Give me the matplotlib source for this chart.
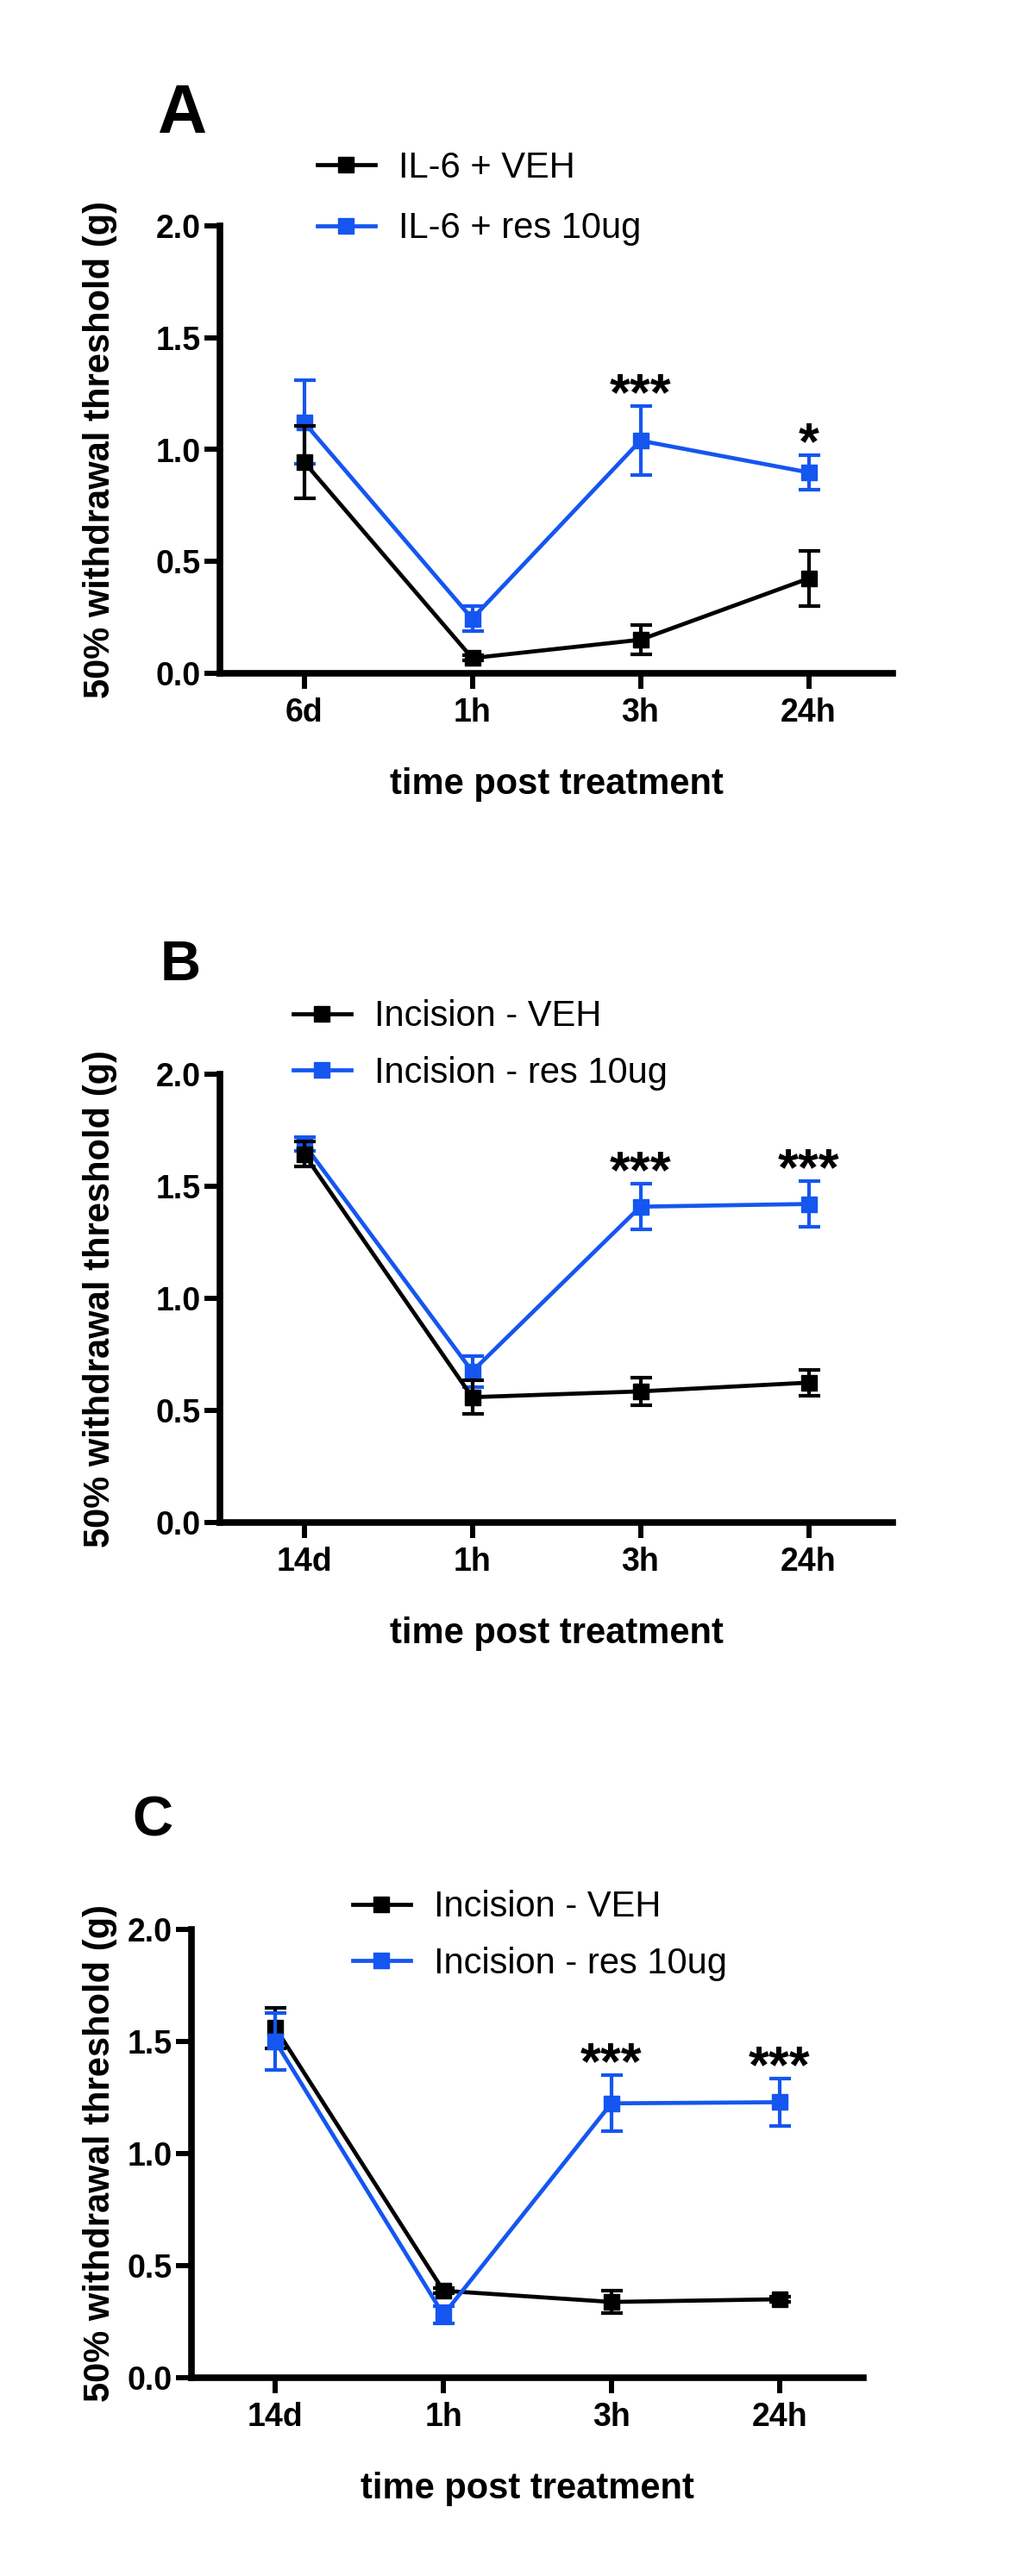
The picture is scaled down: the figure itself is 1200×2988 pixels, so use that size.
import matplotlib
matplotlib.use('Agg')
import matplotlib.pyplot as plt

plt.rcParams['font.family'] = ['Liberation Sans', 'DejaVu Sans']

W, H = 1200, 2988
BLUE = '#1556f0'

# x categories
times_a = ['6d', '1h', '3h', '24h']
times_bc = ['14d', '1h', '3h', '24h']

# A: IL-6
a_names = ['IL-6 + VEH', 'IL-6 + res 10ug']
a_veh = [0.945, 0.068, 0.150, 0.424]
a_veh_sem = [0.162, 0.012, 0.066, 0.124]
a_res = [1.122, 0.244, 1.040, 0.898]
a_res_sem = [0.187, 0.056, 0.155, 0.078]
a_stars = ['', '', '***', '*']

# B: incision
b_names = ['Incision - VEH', 'Incision - res 10ug']
b_veh = [1.644, 0.559, 0.585, 0.624]
b_veh_sem = [0.056, 0.075, 0.060, 0.058]
b_res = [1.688, 0.674, 1.409, 1.421]
b_res_sem = [0.030, 0.070, 0.103, 0.103]
b_stars = ['', '', '***', '***']

# C: incision
c_names = ['Incision - VEH', 'Incision - res 10ug']
c_veh = [1.560, 0.388, 0.338, 0.350]
c_veh_sem = [0.090, 0.012, 0.050, 0.010]
c_res = [1.500, 0.281, 1.224, 1.229]
c_res_sem = [0.127, 0.040, 0.125, 0.106]
c_stars = ['', '', '***', '***']

yticks = [0.0, 0.5, 1.0, 1.5, 2.0]

fig = plt.figure(figsize=(W / 100, H / 100), dpi=100)


def panel(box, letter, letter_pos, letter_size, times, names, veh, veh_sem, res, res_sem, stars,
          leg_pos, leg_space, blue_on_top=False):
    l, t, r, b = box  # pixels
    ax = fig.add_axes([l / W, 1 - b / H, (r - l) / W, (b - t) / H])
    x = list(range(len(times)))
    zb, zk = (4, 2) if blue_on_top else (2, 4)

    ax.errorbar(x, res, yerr=res_sem, fmt='none', ecolor=BLUE, elinewidth=3, capsize=9, capthick=3, zorder=zb)
    res_line, = ax.plot(x, res, color=BLUE, lw=3.4, marker='s', ms=13.5, zorder=zb + 1)
    ax.errorbar(x, veh, yerr=veh_sem, fmt='none', ecolor='black', elinewidth=3, capsize=9, capthick=3, zorder=zk)
    veh_line, = ax.plot(x, veh, color='black', lw=3.4, marker='s', ms=13.5, zorder=zk + 1)

    for i, s in enumerate(stars):
        if s:
            ax.annotate(s, xy=(x[i], res[i] + res_sem[i]), xytext=(0, 8), textcoords='offset points',
                        ha='center', va='center', fontsize=44, fontweight='bold')

    ax.set_xlim(-0.5, 3.5)
    ax.set_ylim(0, 2)
    ax.set_xticks(x, times, fontweight='bold')
    ax.set_yticks(yticks, ['%.1f' % v for v in yticks], fontweight='bold')
    for side in ['top', 'right']:
        ax.spines[side].set_visible(False)
    for side in ['left', 'bottom']:
        ax.spines[side].set_linewidth(5.5)
    ax.tick_params(direction='out', length=13, width=4.3, labelsize=27, colors='black')
    ax.tick_params(axis='x', pad=7)
    ax.tick_params(axis='y', pad=3)
    ax.patch.set_alpha(0)

    ax.set_ylabel('50% withdrawal threshold (g)', fontsize=30, fontweight='bold', va='center')
    ax.yaxis.set_label_coords(116 / W, 1 - ((t + b) / 2) / H, transform=fig.transFigure)
    ax.set_xlabel('time post treatment', fontsize=30, fontweight='bold', va='baseline')
    ax.xaxis.set_label_coords(((l + r) / 2) / W, 1 - (b + 140) / H, transform=fig.transFigure)

    ax.legend([veh_line, res_line], names, loc='center left',
              bbox_to_anchor=(leg_pos[0] / W, 1 - leg_pos[1] / H), bbox_transform=fig.transFigure,
              frameon=False, fontsize=30, handlelength=1.6, handletextpad=0.65,
              labelspacing=leg_space, borderpad=0, borderaxespad=0, numpoints=1)

    fig.text(letter_pos[0] / W, 1 - letter_pos[1] / H, letter, fontsize=letter_size,
             fontweight='bold', ha='left', va='baseline')
    return ax


panel((255, 262, 1035, 781), 'A', (182, 154), 57, times_a, a_names,
      a_veh, a_veh_sem, a_res, a_res_sem, a_stars, (368, 230), 0.73)
panel((255, 1246, 1035, 1766), 'B', (186, 1137), 47, times_bc, b_names,
      b_veh, b_veh_sem, b_res, b_res_sem, b_stars, (340, 1212), 0.61)
panel((222, 2238, 1001, 2758), 'C', (153, 2130), 47, times_bc, c_names,
      c_veh, c_veh_sem, c_res, c_res_sem, c_stars, (409, 2245), 0.61, blue_on_top=True)

fig.savefig('out.png', dpi=100, facecolor='white')
